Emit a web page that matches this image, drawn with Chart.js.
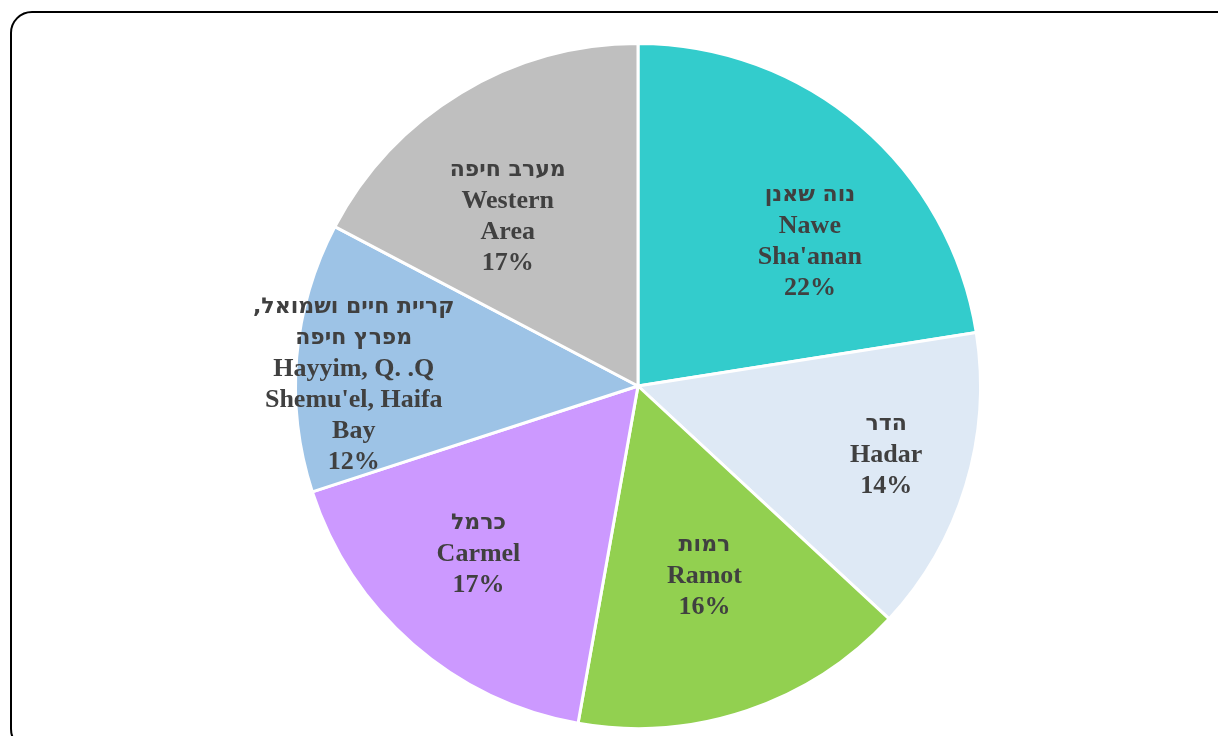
<!DOCTYPE html>
<html>
<head>
<meta charset="utf-8">
<script src="https://cdn.jsdelivr.net/npm/chart.js@4"></script>
<style>
  html, body { margin: 0; padding: 0; background: #fff; overflow: hidden; }
  #wrap { position: relative; width: 1218px; height: 736px; overflow: hidden; }
  #frame { position: absolute; left: 10px; top: 11px; width: 1230px; height: 740px;
           border: 2px solid #000; border-radius: 22px; box-sizing: border-box; }
  #c { position: absolute; left: 0; top: 0; }
</style>
</head>
<body>
<div id="wrap">
  <div id="frame"></div>
  <canvas id="c" width="1218" height="736"></canvas>
</div>
<script>
// areas, clockwise from 12 o'clock
var hebrewNames = ["נוה שאנן", "הדר", "רמות", "כרמל", ",קריית חיים ושמואל|מפרץ חיפה", "מערב חיפה"];
var englishNames = ["Nawe|Sha'anan", "Hadar", "Ramot", "Carmel", "Hayyim, Q. .Q|Shemu'el, Haifa|Bay", "Western|Area"];
var shares = [22.5, 14.4, 15.9, 17.2, 12.7, 17.3];
var pctLabels = ["22%", "14%", "16%", "17%", "12%", "17%"];
var colors = ["#33CCCC", "#DEE9F5", "#92D050", "#CC99FF", "#9DC3E6", "#BFBFBF"];

// label placement: [fraction of radius, angle shift in degrees]
var labelLayout = [[0.66, 9], [0.75, -2], [0.58, -1], [0.67, 3], [0.83, -4], [0.63, -6]];

var latinFont = 'bold 26px "Liberation Serif", "Times New Roman", serif';
var hebrewFont = 'bold 22px "DejaVu Sans", sans-serif';

var sliceLabels = {
  id: 'sliceLabels',
  afterDatasetsDraw: function(chart) {
    var ctx = chart.ctx;
    var meta = chart.getDatasetMeta(0);
    ctx.save();
    ctx.fillStyle = '#404040';
    ctx.textAlign = 'center';
    ctx.textBaseline = 'middle';
    meta.data.forEach(function(arc, i) {
      var mid = (arc.startAngle + arc.endAngle) / 2 + labelLayout[i][1] * Math.PI / 180;
      var r = arc.outerRadius * labelLayout[i][0];
      var cx = arc.x + Math.cos(mid) * r;
      var cy = arc.y + Math.sin(mid) * r + 3;
      var lines = hebrewNames[i].split('|').concat(englishNames[i].split('|')).concat([pctLabels[i]]);
      var lh = 31;
      var top = cy - (lines.length - 1) * lh / 2;
      lines.forEach(function(t, k) {
        ctx.font = /[\u0590-\u05FF]/.test(t) ? hebrewFont : latinFont;
        ctx.fillText(t, cx, top + k * lh);
      });
    });
    ctx.restore();
  }
};

new Chart(document.getElementById('c'), {
  type: 'pie',
  data: {
    labels: englishNames,
    datasets: [{
      data: shares,
      backgroundColor: colors,
      borderColor: '#ffffff',
      borderWidth: 3
    }]
  },
  options: {
    responsive: false,
    animation: false,
    layout: { padding: { left: 58, right: 0, top: 42, bottom: 6 } },
    plugins: { legend: { display: false }, tooltip: { enabled: false } }
  },
  plugins: [sliceLabels]
});
</script>
</body>
</html>
